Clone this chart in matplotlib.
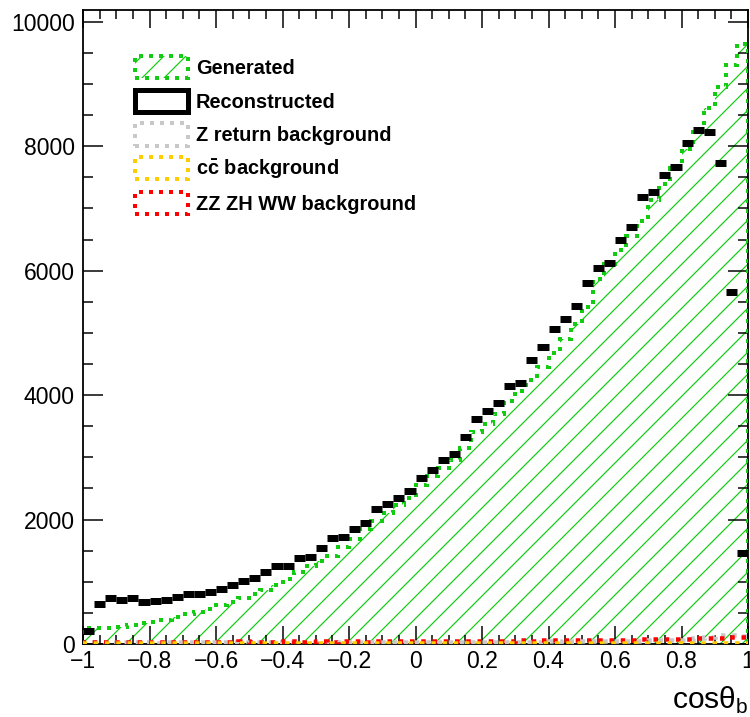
import numpy as np
import matplotlib
matplotlib.use("Agg")
import matplotlib.pyplot as plt
from matplotlib.patches import Patch
from matplotlib.ticker import MultipleLocator

DPI = 66
W, H = 750, 717


def pt(v):
    # pixel -> points at this dpi
    return v * 72 / DPI


plt.rcParams["font.family"] = ["Liberation Sans", "DejaVu Sans"]
plt.rcParams["mathtext.fontset"] = "custom"
plt.rcParams["mathtext.rm"] = "Liberation Sans:bold"
plt.rcParams["mathtext.sf"] = "Liberation Sans"
plt.rcParams["hatch.linewidth"] = pt(1.2)

# 60 bins in cos(theta_b)
n_bins = 60
x_lo, x_hi = -1.0, 1.0

generated = [250, 255, 260, 270, 300, 330, 360, 390, 430, 480,
             520, 570, 620, 680, 740, 800, 870, 950, 1050, 1150,
             1260, 1340, 1420, 1560, 1680, 1850, 1980, 2110, 2230, 2350,
             2550, 2700, 2830, 2950, 3150, 3400, 3540, 3700, 3900, 4070,
             4250, 4450, 4670, 4900, 5150, 5410, 5870, 6100, 6330, 6550,
             6800, 7130, 7400, 7650, 7950, 8260, 8610, 8950, 9300, 9650]

reconstructed = [210, 640, 740, 710, 740, 680, 690, 700, 760, 800,
                 810, 840, 880, 950, 1010, 1060, 1150, 1250, 1260, 1390,
                 1400, 1550, 1700, 1720, 1850, 1950, 2170, 2250, 2350, 2460,
                 2670, 2800, 2950, 3060, 3320, 3620, 3750, 3880, 4150, 4200,
                 4560, 4770, 5070, 5230, 5440, 5810, 6040, 6120, 6490, 6700,
                 7180, 7260, 7530, 7660, 8050, 8260, 8230, 7730, 5650, 1470]

z_return = [20, 25, 22, 28, 25, 30, 24, 26, 30, 28,
            25, 30, 27, 32, 28, 30, 26, 30, 33, 28,
            30, 32, 29, 31, 35, 30, 33, 30, 35, 32,
            30, 34, 36, 32, 35, 38, 34, 36, 40, 38,
            36, 40, 42, 38, 45, 42, 48, 45, 50, 55,
            52, 58, 60, 65, 70, 90, 120, 140, 150, 130]

cc_bkg = [15, 10, 18, 12, 15, 10, 14, 12, 16, 10,
          14, 12, 10, 15, 12, 14, 10, 16, 12, 14,
          10, 15, 12, 14, 16, 10, 14, 12, 15, 10,
          14, 12, 16, 10, 14, 12, 15, 10, 14, 12,
          16, 10, 14, 12, 15, 10, 14, 12, 16, 10,
          14, 12, 15, 10, 14, 12, 16, 10, 14, 12]

zz_zh_ww = [35, 40, 30, 38, 35, 40, 36, 32, 38, 40,
            35, 38, 40, 36, 42, 38, 40, 36, 42, 40,
            38, 42, 40, 45, 42, 40, 45, 42, 48, 45,
            42, 48, 45, 50, 48, 52, 50, 55, 52, 58,
            55, 60, 58, 62, 60, 65, 62, 68, 70, 72,
            75, 78, 80, 85, 88, 92, 95, 100, 105, 110]

legend_labels = ["Generated", "Reconstructed", "Z return background",
                 r"c$\bar{\mathrm{c}}$ background", "ZZ ZH WW background"]

green = "#11cc11"
orange = "#ffcc00"
red = "#ff0000"
grey = "#c8c8c8"
dots = (0, (1, 1.5))

edges = np.linspace(x_lo, x_hi, n_bins + 1)

fig = plt.figure(figsize=(W / DPI, H / DPI), dpi=DPI)
ax = fig.add_axes([83 / W, (H - 644) / H, 665 / W, 634 / H])

# generated: hatched fill + dotted outline
ax.stairs(generated, edges, fill=True, facecolor="none", edgecolor=green,
          hatch="/", linewidth=0, zorder=1)
ax.stairs(generated, edges, color=green, linewidth=pt(4), linestyle=dots, zorder=3)

# reconstructed: thick bin-wide bars
ax.hlines(reconstructed, edges[:-1], edges[1:], color="black",
          linewidth=pt(7), zorder=5)

# backgrounds
ax.stairs(z_return, edges, color=grey, linewidth=pt(4.5), linestyle=dots, zorder=6)
ax.stairs(zz_zh_ww, edges, color=red, linewidth=pt(4.5), linestyle=dots, zorder=7)
ax.stairs(cc_bkg, edges, color=orange, linewidth=pt(4.5), linestyle=dots, zorder=8)

ax.set_xlim(x_lo, x_hi)
ax.set_ylim(0, 10190)

ax.xaxis.set_major_locator(MultipleLocator(0.2))
ax.xaxis.set_minor_locator(MultipleLocator(0.05))
ax.yaxis.set_major_locator(MultipleLocator(2000))
ax.yaxis.set_minor_locator(MultipleLocator(500))
ax.tick_params(which="both", direction="in", top=True, right=True,
               width=pt(1.5), labelsize=pt(23), colors="black")
ax.tick_params(axis="x", which="major", length=pt(18), pad=pt(6))
ax.tick_params(axis="x", which="minor", length=pt(9))
ax.tick_params(axis="y", which="major", length=pt(20), pad=pt(8))
ax.tick_params(axis="y", which="minor", length=pt(10))
ax.xaxis.set_major_formatter(lambda v, p: f"{v:.1f}".rstrip("0").rstrip(".").replace("-", "\u2212") if abs(v) > 1e-9 else "0")
for s in ax.spines.values():
    s.set_linewidth(pt(1.8))

fig.text(748 / W, 1 - 709 / H, r"cosθ$_{\mathsf{b}}$", ha="right", va="baseline",
         fontsize=pt(30))

handles = [
    Patch(facecolor="none", edgecolor=green, hatch="/", linewidth=pt(4), linestyle=dots),
    Patch(facecolor="none", edgecolor="black", linewidth=pt(5)),
    Patch(facecolor="none", edgecolor=grey, linewidth=pt(4), linestyle=dots),
    Patch(facecolor="none", edgecolor=orange, linewidth=pt(4), linestyle=dots),
    Patch(facecolor="none", edgecolor=red, linewidth=pt(4), linestyle=dots),
]
ax.legend(handles, legend_labels, loc="upper left",
          bbox_to_anchor=(135 / W, 1 - 56 / H), bbox_transform=fig.transFigure,
          frameon=False, borderpad=0, borderaxespad=0,
          prop={"size": pt(20), "weight": "bold"},
          handlelength=2.65, handleheight=1.35, handletextpad=0.4, labelspacing=0.56)

fig.savefig("out.png", dpi=DPI)
